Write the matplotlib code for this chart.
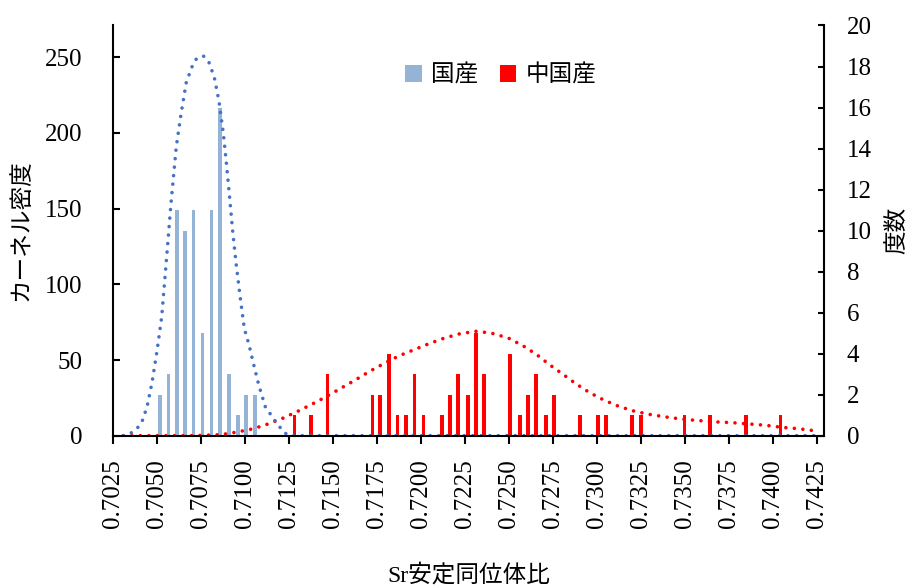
import matplotlib
matplotlib.use("Agg")
import matplotlib.pyplot as plt
from matplotlib.ticker import FormatStrFormatter, MultipleLocator

# 度数 (histogram counts)
jp_x = [0.70516, 0.70563, 0.70611, 0.70659, 0.70707, 0.70758,
        0.70807, 0.70857, 0.70908, 0.70958, 0.71005, 0.71056]
jp_count = [2, 3, 11, 10, 11, 5, 11, 16, 3, 1, 2, 2]

cn_x = [0.71279, 0.71374, 0.71469, 0.71723, 0.71767, 0.71818, 0.71867, 0.71913,
        0.71962, 0.72013, 0.72119, 0.72165, 0.72210, 0.72267, 0.72313, 0.72358,
        0.72506, 0.72563, 0.72608, 0.72654, 0.72711, 0.72756, 0.72904, 0.73006,
        0.73052, 0.73200, 0.73249, 0.73496, 0.73643, 0.73848, 0.74042]
cn_count = [1, 1, 3, 2, 2, 4, 1, 1, 3, 1, 1, 2, 3, 2, 5, 3,
            4, 1, 2, 3, 1, 2, 1, 1, 1, 1, 1, 1, 1, 1, 1]

# カーネル密度 curves, points
jp_kde_x = [0.70307, 0.70349, 0.70386, 0.70413, 0.70442, 0.70470, 0.70499, 0.70525,
            0.70548, 0.70563, 0.70578, 0.70608, 0.70635, 0.70665, 0.70699, 0.70722,
            0.70762, 0.70793, 0.70824, 0.70851, 0.70876, 0.70895, 0.70912, 0.70929,
            0.70948, 0.70971, 0.70995, 0.71022, 0.71043, 0.71077, 0.71114, 0.71166,
            0.71221, 0.71255, 0.74250]
jp_kde_y = [0, 1.6, 4.9, 9.2, 19.2, 35.0, 56.4, 78.2,
            110.6, 131.9, 153.5, 190.9, 212.5, 233.5, 244.1, 248.9,
            250.9, 246.9, 236.8, 220.9, 199.3, 177.7, 156.4, 134.8,
            113.9, 91.8, 70.7, 59.9, 49.4, 33.5, 19.2, 10.4,
            2.0, 0, 0]

cn_kde_x = [0.70307, 0.70700, 0.70863, 0.70953, 0.71046, 0.71134, 0.71217, 0.71302,
            0.71384, 0.71467, 0.71549, 0.71629, 0.71710, 0.71791, 0.71873, 0.71960,
            0.72045, 0.72132, 0.72222, 0.72314, 0.72402, 0.72496, 0.72578, 0.72658,
            0.72730, 0.72806, 0.72881, 0.72959, 0.73041, 0.73128, 0.73215, 0.73306,
            0.73401, 0.73494, 0.73587, 0.73678, 0.73770, 0.73867, 0.73958, 0.74051,
            0.74146, 0.74235]
cn_kde_y = [0, 0, 0.7, 2.4, 4.6, 7.9, 11.7, 16.3,
            21.1, 26.2, 31.7, 37.0, 42.7, 47.8, 52.7, 56.8,
            60.8, 64.5, 67.4, 69.0, 67.7, 64.5, 59.5, 53.5,
            46.9, 40.6, 34.2, 28.4, 23.4, 19.2, 16.1, 13.9,
            12.2, 10.8, 9.9, 9.1, 8.6, 7.7, 6.9, 5.5,
            4.6, 3.3]

plt.rcParams["font.family"] = ["Liberation Serif", "Noto Sans CJK JP"]

fig = plt.figure(figsize=(9.1, 5.86), dpi=100)
ax2 = fig.add_axes([0.1245, 0.2565, 0.7813, 0.7000])   # 度数 (right)
ax = fig.add_axes(ax2.get_position(), sharex=ax2)       # カーネル密度 (left, drawn on top)
ax.patch.set_visible(False)

bar_w = 0.0002
b_jp = ax2.bar(jp_x, jp_count, width=bar_w, color="#95B3D7", label="国産")
b_cn = ax2.bar(cn_x, cn_count, width=bar_w, color="#FF0000", label="中国産")

dots = dict(linewidth=2.6, linestyle=(0, (0.01, 2.35)), dash_capstyle="round")
ax.plot(cn_kde_x, cn_kde_y, color="#FF0000", **dots)
ax.plot(jp_kde_x, jp_kde_y, color="#4472C4", **dots)

ax.set_xlim(0.7025, 0.74292)
ax.set_ylim(0, 271)
ax2.set_ylim(0, 20)

ax.xaxis.set_major_locator(MultipleLocator(0.0025))
ax.xaxis.set_major_formatter(FormatStrFormatter("%.4f"))
ax.yaxis.set_major_locator(MultipleLocator(50))
ax2.yaxis.set_major_locator(MultipleLocator(2))

ax2.yaxis.tick_right()
ax2.yaxis.set_label_position("right")
ax2.tick_params(axis="x", bottom=False, labelbottom=False)
ax2.tick_params(axis="y", direction="in", length=4.5, width=1.5, pad=16, labelsize=18)
ax.tick_params(axis="y", direction="in", length=5, width=1.5, pad=22, labelsize=18)
ax.tick_params(axis="x", direction="out", length=5.8, width=1.5, pad=11,
               labelsize=18, labelrotation=90)

for s in ["top", "right"]:
    ax.spines[s].set_visible(False)
for s in ["top", "left", "bottom"]:
    ax2.spines[s].set_visible(False)
ax.spines["left"].set_linewidth(1.5)
ax.spines["bottom"].set_linewidth(1.5)
ax2.spines["right"].set_linewidth(1.5)

ax.set_ylabel("カーネル密度", fontsize=17)
ax.yaxis.set_label_coords(-0.114, 0.5)
ax2.set_ylabel("度数", fontsize=17)
ax2.yaxis.set_label_coords(1.088, 0.5)
ax.set_xlabel("Sr安定同位体比", fontsize=17)
ax.xaxis.set_label_coords(0.5, -0.312)

ax.legend(handles=[b_jp, b_cn], loc="center", bbox_to_anchor=(0.545, 0.877),
          ncol=2, frameon=False, fontsize=17, handlelength=0.7, handleheight=0.7,
          handletextpad=0.4, columnspacing=0.9)

fig.savefig("out.png", dpi=100)
